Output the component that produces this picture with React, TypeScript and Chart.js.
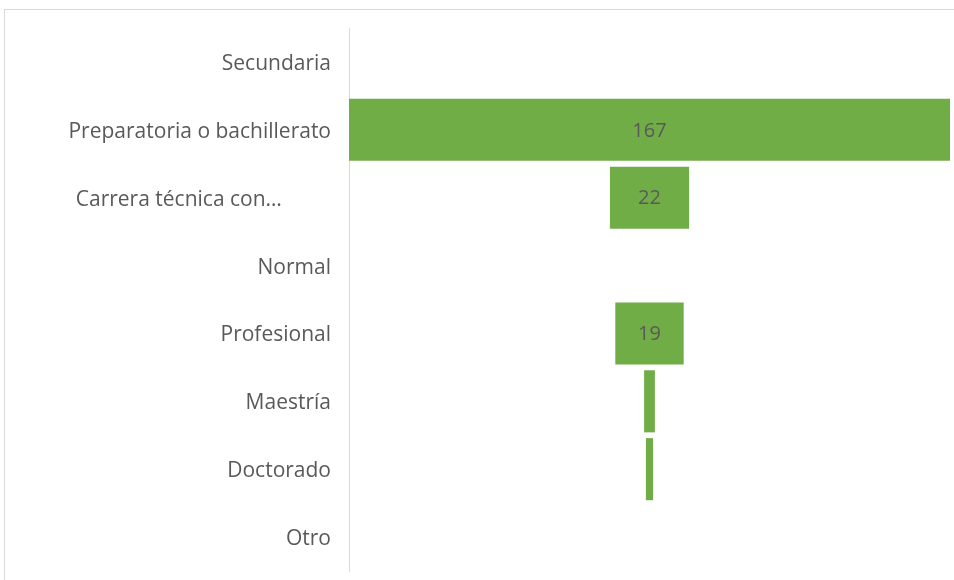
import React, { useEffect, useRef } from "react";
import { Chart, registerables } from "chart.js";

Chart.register(...registerables);

const categories = [
  "Secundaria",
  "Preparatoria o bachillerato",
  "Carrera técnica con…",
  "Normal",
  "Profesional",
  "Maestría",
  "Doctorado",
  "Otro",
];
const values = [0, 167, 22, 0, 19, 3, 2, 0];
const maxValue = 167;

const FONT = "'Open Sans', 'Noto Sans', sans-serif";

const labelPlugin = {
  id: "funnelLabels",
  afterDatasetsDraw(chart: any) {
    const ctx = chart.ctx;
    const meta = chart.getDatasetMeta(0);
    ctx.save();
    ctx.font = `20px ${FONT}`;
    ctx.fillStyle = "#595959";
    ctx.textAlign = "center";
    ctx.textBaseline = "middle";
    meta.data.forEach((bar: any, i: number) => {
      const v = values[i];
      if (!v) return;
      const text = String(v);
      const w = Math.abs(bar.x - bar.base);
      if (w < ctx.measureText(text).width + 8) return;
      ctx.fillText(text, (bar.x + bar.base) / 2, bar.y + 1);
    });
    ctx.restore();
  },
};

export default function App() {
  const ref = useRef<HTMLCanvasElement | null>(null);
  useEffect(() => {
    if (!ref.current) return;
    const chart = new Chart(ref.current, {
      type: "bar",
      data: {
        labels: categories,
        datasets: [
          {
            data: values.map((v) => [-v / 2, v / 2]) as any,
            backgroundColor: "#70AD47",
            borderWidth: 0,
            barPercentage: 0.915,
            categoryPercentage: 1,
          },
        ],
      },
      options: {
        indexAxis: "y",
        animation: false,
        responsive: false,
        maintainAspectRatio: false,
        layout: { padding: { top: 28, bottom: 9, right: 4, left: 0 } },
        plugins: { legend: { display: false }, tooltip: { enabled: false } },
        scales: {
          x: { display: false, min: -maxValue / 2, max: maxValue / 2 },
          y: {
            grid: { display: false },
            border: { display: true, color: "#d9d9d9", width: 1 },
            ticks: {
              color: "#595959",
              font: { family: FONT, size: 21 },
              padding: 10,
              labelOffset: 2,
              autoSkip: false,
              callback: (_v: any, i: number) => {
                const label = categories[i];
                // truncated labels keep the space of their hidden remainder
                return label.endsWith("…") ? label + "\u00A0".repeat(9) : label;
              },
            },
            afterFit: (scale: any) => {
              scale.width = 349;
              scale.paddingTop = 0;
              scale.paddingBottom = 0;
            },
          },
        },
      },
      plugins: [labelPlugin],
    });
    return () => chart.destroy();
  }, []);
  return (
    <div style={{ position: "fixed", left: 0, top: 0, width: 954, height: 580, background: "#fff" }}>
      <div
        style={{
          position: "absolute",
          left: 4,
          top: 9,
          width: 980,
          height: 600,
          border: "1px solid #d9d9d9",
          boxSizing: "border-box",
        }}
      />
      <canvas ref={ref} width={954} height={580} style={{ position: "absolute", left: 0, top: 0 }} />
    </div>
  );
}
